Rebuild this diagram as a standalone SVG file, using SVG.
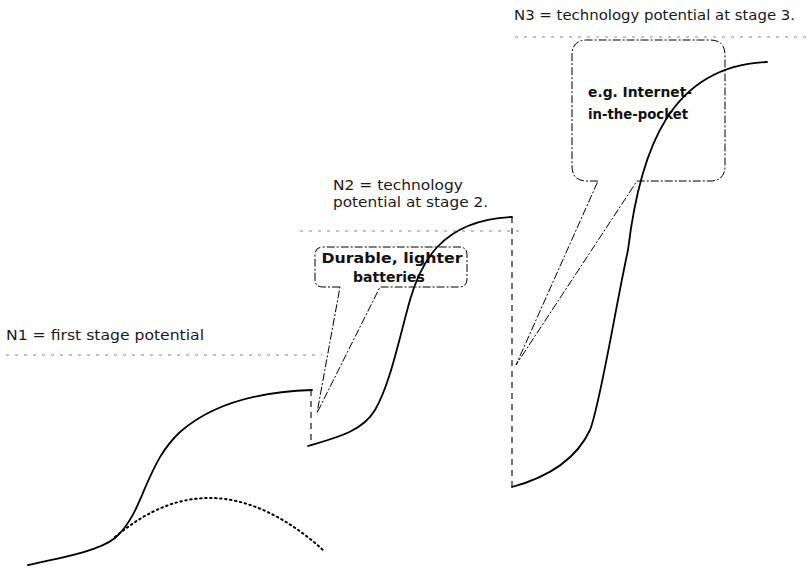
<svg xmlns="http://www.w3.org/2000/svg" width="812" height="569" viewBox="0 0 812 569">
  <style>
    .label { font-family: "DejaVu Sans", Verdana, sans-serif; font-size: 14.5px; fill: #1a1a1a; }
    .callout-text { font-family: "DejaVu Sans", Verdana, sans-serif; font-size: 14px; font-weight: bold; fill: #111; text-anchor: middle; }
    .limit { fill: none; stroke: #8a8a8a; stroke-width: 1.2; stroke-dasharray: 3 6; }
    .curve { fill: none; stroke: #000; stroke-width: 1.8; stroke-linecap: round; }
    .decline { fill: none; stroke: #000; stroke-width: 2; stroke-dasharray: 1.5 3.5; stroke-linecap: round; }
    .jump { fill: none; stroke: #000; stroke-width: 1.1; stroke-dasharray: 6 5; }
    .bubble { fill: none; stroke: #000; stroke-width: 1; stroke-dasharray: 8 2 2 2; }
  </style>

  <rect width="812" height="569" fill="#fff"/>

  <!-- stage potential levels -->
  <g id="levels">
    <line class="limit" x1="6" y1="355" x2="322" y2="355"/>
    <line class="limit" x1="300" y1="231" x2="525" y2="231"/>
    <line class="limit" x1="515" y1="37" x2="808" y2="37"/>
  </g>

  <g id="label-n1">
    <text class="label" x="6" y="340" textLength="198" lengthAdjust="spacingAndGlyphs">N1 = first stage potential</text>
  </g>
  <g id="label-n2">
    <text class="label" x="333" y="190" textLength="130" lengthAdjust="spacingAndGlyphs">N2 = technology</text>
    <text class="label" x="333" y="207" textLength="155" lengthAdjust="spacingAndGlyphs">potential at stage 2.</text>
  </g>
  <g id="label-n3">
    <text class="label" x="514" y="20" textLength="281" lengthAdjust="spacingAndGlyphs">N3 = technology potential at stage 3.</text>
  </g>

  <!-- callout: batteries -->
  <g id="callout-batteries">
    <path class="bubble" d="M340,287 L323,287 Q315,287 315,279 L315,255 Q315,247 323,247 L459,247 Q467,247 467,255 L467,279 Q467,287 459,287 L380,287 L317,413 Z"/>
    <text class="callout-text" x="392" y="263" textLength="141" lengthAdjust="spacingAndGlyphs">Durable, lighter</text>
    <text class="callout-text" x="389" y="282">batteries</text>
  </g>

  <!-- callout: internet -->
  <g id="callout-internet">
    <path class="bubble" d="M598,181 L587,181 Q572,181 572,166 L572,55 Q572,40 587,40 L710,40 Q725,40 725,55 L725,166 Q725,181 710,181 L637,181 L516,365 Z"/>
    <text class="callout-text" x="640" y="97" textLength="104" lengthAdjust="spacingAndGlyphs">e.g. Internet-</text>
    <text class="callout-text" x="638" y="119" textLength="100" lengthAdjust="spacingAndGlyphs">in-the-pocket</text>
  </g>

  <!-- S-curves and transitions -->
  <g id="connectors">
    <path id="stage1" class="curve" d="M28,565 C70,556 100,550 115,538 C130,525 138,505 145,488 C155,465 163,448 180,432 C205,410 245,392 312,390"/>
    <path id="stage1-decline" class="decline" d="M115,537 C150,508 180,498 210,498 C250,498 290,520 323,550"/>
    <path id="jump1" class="jump" d="M311,390 L311,446"/>
    <path id="stage2" class="curve" d="M308,446 C335,438 362,432 375,410 C390,385 400,335 410,300 C420,265 440,220 512,217"/>
    <path id="jump2" class="jump" d="M512,217 L512,487"/>
    <path id="stage3" class="curve" d="M512,487 C545,478 575,462 590,430 C600,405 615,310 628,250 C640,150 670,66 767,62"/>
  </g>
</svg>
